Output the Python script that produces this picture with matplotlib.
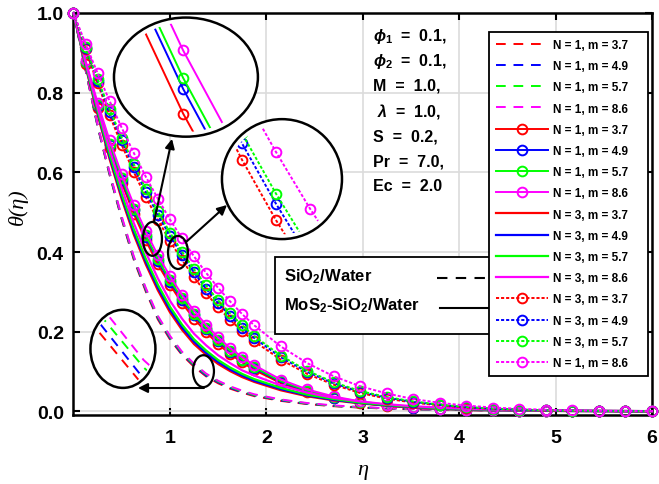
import matplotlib
matplotlib.use("Agg")
import matplotlib.pyplot as plt
from matplotlib.patches import Ellipse, Rectangle

plt.rcParams["font.family"] = ["Liberation Sans", "DejaVu Sans"]
plt.rcParams["font.weight"] = "bold"
plt.rcParams["mathtext.fontset"] = "custom"
plt.rcParams["mathtext.rm"] = "Liberation Sans:bold"
plt.rcParams["mathtext.bf"] = "Liberation Sans:bold"
plt.rcParams["mathtext.it"] = "Liberation Sans:italic:bold"

# similarity variable (solver mesh, markers sit on these points)
ETA = [0, 0.125, 0.25, 0.375, 0.5, 0.625, 0.75, 0.875, 1.0, 1.125, 1.25, 1.375, 1.5,
       1.625, 1.75, 1.875, 2.15, 2.425, 2.7, 2.975, 3.25, 3.525, 3.8, 4.075, 4.35,
       4.625, 4.9, 5.175, 5.45, 5.725, 6.0]

M_LABELS = ["3.7", "4.9", "5.7", "8.6"]
COLORS = ["#FF0000", "#0000FF", "#00FF00", "#FF00FF"]

# N = 1, SiO2/Water (dashed)
n1_dash_m37 = [1, .857, .715, .593, .482, .381, .301, .231, .181, .142, .112, .088, .0705, .057, .047,
               .0383, .0264, .0183, .013, .0096, .0069, .0052, .0040, .0031, .0024, .0018, .0014,
               .0011, .0008, .0006, .0004]
n1_dash_m49 = [1, .858, .716, .595, .484, .384, .304, .234, .184, .144, .115, .090, .073, .059, .0485,
               .040, .0276, .0192, .0137, .010, .0073, .0055, .0041, .0032, .0025, .0019, .0014,
               .0011, .0009, .0006, .0004]
n1_dash_m57 = [1, .859, .718, .598, .487, .387, .307, .237, .187, .147, .117, .093, .075, .061, .050,
               .041, .029, .020, .014, .0105, .0076, .0057, .0043, .0034, .0026, .002, .0015,
               .0012, .0009, .0006, .0004]
n1_dash_m86 = [1, .86, .72, .60, .49, .39, .31, .24, .19, .15, .12, .095, .077, .063, .052,
               .043, .030, .021, .015, .011, .008, .006, .0045, .0035, .0027, .002, .0015,
               .0012, .0009, .0006, .0004]

# N = 1, MoS2-SiO2/Water (solid + circles)
n1_mark_m37 = [1, .873, .761, .662, .574, .496, .429, .369, .318, .272, .233, .199, .169, .144, .123,
               .104, .071, .048, .0324, .0213, .0138, .0088, .0057, .0036, .0023, .0014, .0009,
               .0006, .0003, .0002, .0001]
n1_mark_m49 = [1, .876, .767, .669, .582, .505, .438, .378, .326, .280, .241, .206, .176, .150, .128,
               .109, .074, .051, .0344, .0228, .0149, .0096, .0063, .004, .0026, .0016, .001,
               .0007, .0004, .0002, .0002]
n1_mark_m57 = [1, .8775, .769, .672, .586, .509, .442, .382, .330, .284, .244, .209, .179, .1525, .130,
               .111, .076, .052, .0353, .0234, .0154, .010, .0065, .0042, .0027, .0017, .0011,
               .0007, .0004, .0003, .0002]
n1_mark_m86 = [1, .881, .775, .680, .595, .519, .452, .392, .340, .293, .253, .217, .186, .159, .136,
               .116, .080, .055, .0375, .025, .0166, .0109, .0071, .0046, .0030, .0019, .0012,
               .0008, .0005, .0003, .0002]

# N = 3, MoS2-SiO2/Water (solid)
n3_solid_m37 = [1, .866, .745, .633, .533, .444, .369, .304, .249, .205, .169, .142, .119, .101, .086,
                .074, .053, .038, .0276, .020, .0146, .0105, .0077, .0056, .0041, .003, .0022,
                .0016, .0012, .0009, .0006]
n3_solid_m49 = [1, .869, .750, .639, .540, .451, .376, .311, .256, .211, .175, .147, .124, .105, .090,
                .077, .056, .040, .029, .021, .015, .011, .008, .0058, .0042, .0031, .0023,
                .0017, .0012, .0009, .0006]
n3_solid_m57 = [1, .871, .754, .645, .546, .458, .383, .318, .263, .218, .181, .153, .129, .110, .094,
                .081, .059, .042, .031, .022, .016, .0115, .0084, .006, .0044, .0032, .0024,
                .0017, .0013, .0009, .0006]
n3_solid_m86 = [1, .877, .763, .657, .561, .473, .399, .334, .278, .233, .195, .166, .141, .121, .103,
                .090, .065, .047, .034, .025, .018, .013, .0095, .007, .005, .0037, .0027,
                .002, .0014, .001, .0007]

# N = 3, dotted + circles
n3_mark_m37 = [1, .909, .823, .743, .669, .601, .538, .481, .428, .380, .337, .297, .261, .230, .201,
               .176, .130, .094, .067, .046, .032, .022, .015, .0095, .0062, .0039, .0024,
               .0015, .0009, .0006, .0004]
n3_mark_m49 = [1, .913, .830, .752, .680, .613, .551, .494, .441, .393, .349, .308, .272, .240, .210,
               .184, .136, .099, .0705, .049, .0345, .024, .016, .0104, .0068, .0043, .0027,
               .0017, .001, .0007, .0004]
n3_mark_m57 = [1, .915, .834, .758, .687, .621, .559, .502, .449, .401, .357, .316, .279, .246, .216,
               .189, .140, .102, .073, .051, .036, .025, .017, .011, .0072, .0046, .0029,
               .0018, .0011, .0007, .0004]
n3_mark_m86 = [1, .923, .849, .779, .712, .649, .589, .534, .482, .434, .389, .348, .310, .276, .244,
               .216, .163, .121, .088, .063, .045, .031, .0215, .0146, .0097, .0064, .0041,
               .0026, .0016, .0010, .0006]

N1_DASH = [n1_dash_m37, n1_dash_m49, n1_dash_m57, n1_dash_m86]
N1_MARK = [n1_mark_m37, n1_mark_m49, n1_mark_m57, n1_mark_m86]
N3_SOLID = [n3_solid_m37, n3_solid_m49, n3_solid_m57, n3_solid_m86]
N3_MARK = [n3_mark_m37, n3_mark_m49, n3_mark_m57, n3_mark_m86]

# the last legend entry is printed as "N = 1" in the original figure
N3_MARK_LABELS = ["N = 3, m = 3.7", "N = 3, m = 4.9", "N = 3, m = 5.7", "N = 1, m = 8.6"]

PARAM_LINES = [r"$\phi_\mathbf{1}$  =  0.1,", r"$\phi_\mathbf{2}$  =  0.1,", "M  =  1.0,",
               r" $\lambda$  =  1.0,", "S  =  0.2,", "Pr  =  7.0,", "Ec  =  2.0"]

FLUID_LABELS = [r"SiO$_\mathbf{2}$/Water", r"MoS$_\mathbf{2}$-SiO$_\mathbf{2}$/Water"]

STYLE_DASH = dict(ls=(0, (5, 4)), lw=1.4)
STYLE_MARK = dict(ls="-", lw=1.4, marker="o", ms=7, mfc="none", mew=1.4)
STYLE_SOLID = dict(ls="-", lw=1.6)
STYLE_DOT = dict(ls=(0, (1.6, 1.0)), lw=1.4, marker="o", ms=7, mfc="none", mew=1.4)

PAD = "    "  # legend text sits well left of the right frame in the original


def draw_group(ax, curves, style, labels):
    for vals, color, label in zip(curves, COLORS, labels):
        ax.plot(ETA, vals, color=color, label=label + PAD, clip_on=False, zorder=3, **style)


def add_zoom(ax, bounds, xlim, ylim, curves, style):
    x0, y0, w, h = bounds
    ax.add_patch(Ellipse((x0 + w / 2, y0 + h / 2), w, h, facecolor="white",
                         edgecolor="black", lw=1.8, zorder=6))
    ins = ax.inset_axes(bounds, transform=ax.transData, zorder=7)
    ins.set_xlim(*xlim)
    ins.set_ylim(*ylim)
    ins.axis("off")
    clip = Ellipse((0.5, 0.5), 0.92, 0.92, transform=ins.transAxes)
    for vals, color in zip(curves, COLORS):
        (ln,) = ins.plot(ETA, vals, color=color, **style)
        ln.set_clip_path(clip)


def mark_spot(ax, center, w, h, start, end):
    ax.add_patch(Ellipse(center, w, h, facecolor="none", edgecolor="black", lw=1.6, zorder=8))
    ax.annotate("", xy=end, xytext=start, zorder=8,
                arrowprops=dict(arrowstyle="-|>", color="black", lw=1.5,
                                mutation_scale=14, shrinkA=0, shrinkB=0))


fig = plt.figure(figsize=(6.59, 4.85), dpi=100)
ax = fig.add_axes([0.1115, 0.1423, 0.8778, 0.8289])

draw_group(ax, N1_DASH, STYLE_DASH, [f"N = 1, m = {m}" for m in M_LABELS])
draw_group(ax, N1_MARK, STYLE_MARK, [f"N = 1, m = {m}" for m in M_LABELS])
draw_group(ax, N3_SOLID, STYLE_SOLID, [f"N = 3, m = {m}" for m in M_LABELS])
draw_group(ax, N3_MARK, STYLE_DOT, N3_MARK_LABELS)

ax.set_xlim(0, 6)
ax.set_ylim(-0.009, 1.0)
ax.set_xticks([1, 2, 3, 4, 5, 6])
ax.set_yticks([0.0, 0.2, 0.4, 0.6, 0.8, 1.0])
ax.set_yticklabels(["0.0", "0.2", "0.4", "0.6", "0.8", "1.0"])
ax.tick_params(direction="in", top=True, right=True, length=5, width=1.5, labelsize=14)
ax.tick_params(axis="x", pad=10)
ax.tick_params(axis="y", pad=7)
for sp in ax.spines.values():
    sp.set_linewidth(1.8)
ax.grid(True, color="#dcdcdc", lw=1.2)
ax.set_axisbelow(True)

ax.set_xlabel("η", fontsize=16, fontfamily="Liberation Serif", fontstyle="italic",
              fontweight="normal", labelpad=10)
ax.set_ylabel("θ(η)", fontsize=16, fontfamily="Liberation Serif", fontstyle="italic",
              fontweight="normal")
ax.yaxis.set_label_coords(-0.078, 0.52)

# zoomed views
add_zoom(ax, [0.420, 0.6895, 1.493, 0.299], (0.763, 0.996), (0.3606, 0.404), N1_MARK, STYLE_MARK)
add_zoom(ax, [1.540, 0.4325, 1.245, 0.301], (0.927, 1.367), (0.365, 0.460), N3_MARK, STYLE_DOT)
add_zoom(ax, [0.176, 0.059, 0.674, 0.196], (1.285, 1.395), (0.0875, 0.1085), N1_DASH, STYLE_DASH)

mark_spot(ax, (0.819, 0.433), 0.197, 0.085, (0.835, 0.475), (1.022, 0.684))
mark_spot(ax, (1.084, 0.399), 0.207, 0.083, (1.167, 0.425), (1.592, 0.518))
mark_spot(ax, (1.348, 0.101), 0.218, 0.080, (1.353, 0.0587), (0.669, 0.0587))

# parameter block
for i, line in enumerate(PARAM_LINES):
    ax.text(0.518, 0.945 - i * 0.0625, line, transform=ax.transAxes, fontsize=11.5,
            fontweight="bold", va="center", ha="left", zorder=9)

# fluid key box (its right part runs under the main legend)
ax.add_patch(Rectangle((0.348, 0.2015), 0.381, 0.1915, transform=ax.transAxes,
                       facecolor="white", edgecolor="black", lw=1.3, zorder=8))
ax.text(0.364, 0.346, FLUID_LABELS[0], transform=ax.transAxes, fontsize=12,
        va="center", ha="left", zorder=9)
ax.text(0.364, 0.2736, FLUID_LABELS[1], transform=ax.transAxes, fontsize=12,
        va="center", ha="left", zorder=9)
ax.plot([0.628, 0.729], [0.341, 0.341], transform=ax.transAxes, color="black",
        ls=(0, (5, 4)), lw=1.5, zorder=9)
ax.plot([0.6335, 0.729], [0.266, 0.266], transform=ax.transAxes, color="black",
        lw=1.5, zorder=9)

leg = ax.legend(loc="upper right", bbox_to_anchor=(0.993, 0.953), fontsize=8.5,
                handlelength=4.4, handletextpad=0.4, borderpad=0.6, labelspacing=0.78,
                fancybox=False, framealpha=1, edgecolor="black", borderaxespad=0)
leg.get_frame().set_linewidth(1.3)
leg.set_zorder(10)

fig.savefig("out.png", dpi=100)
